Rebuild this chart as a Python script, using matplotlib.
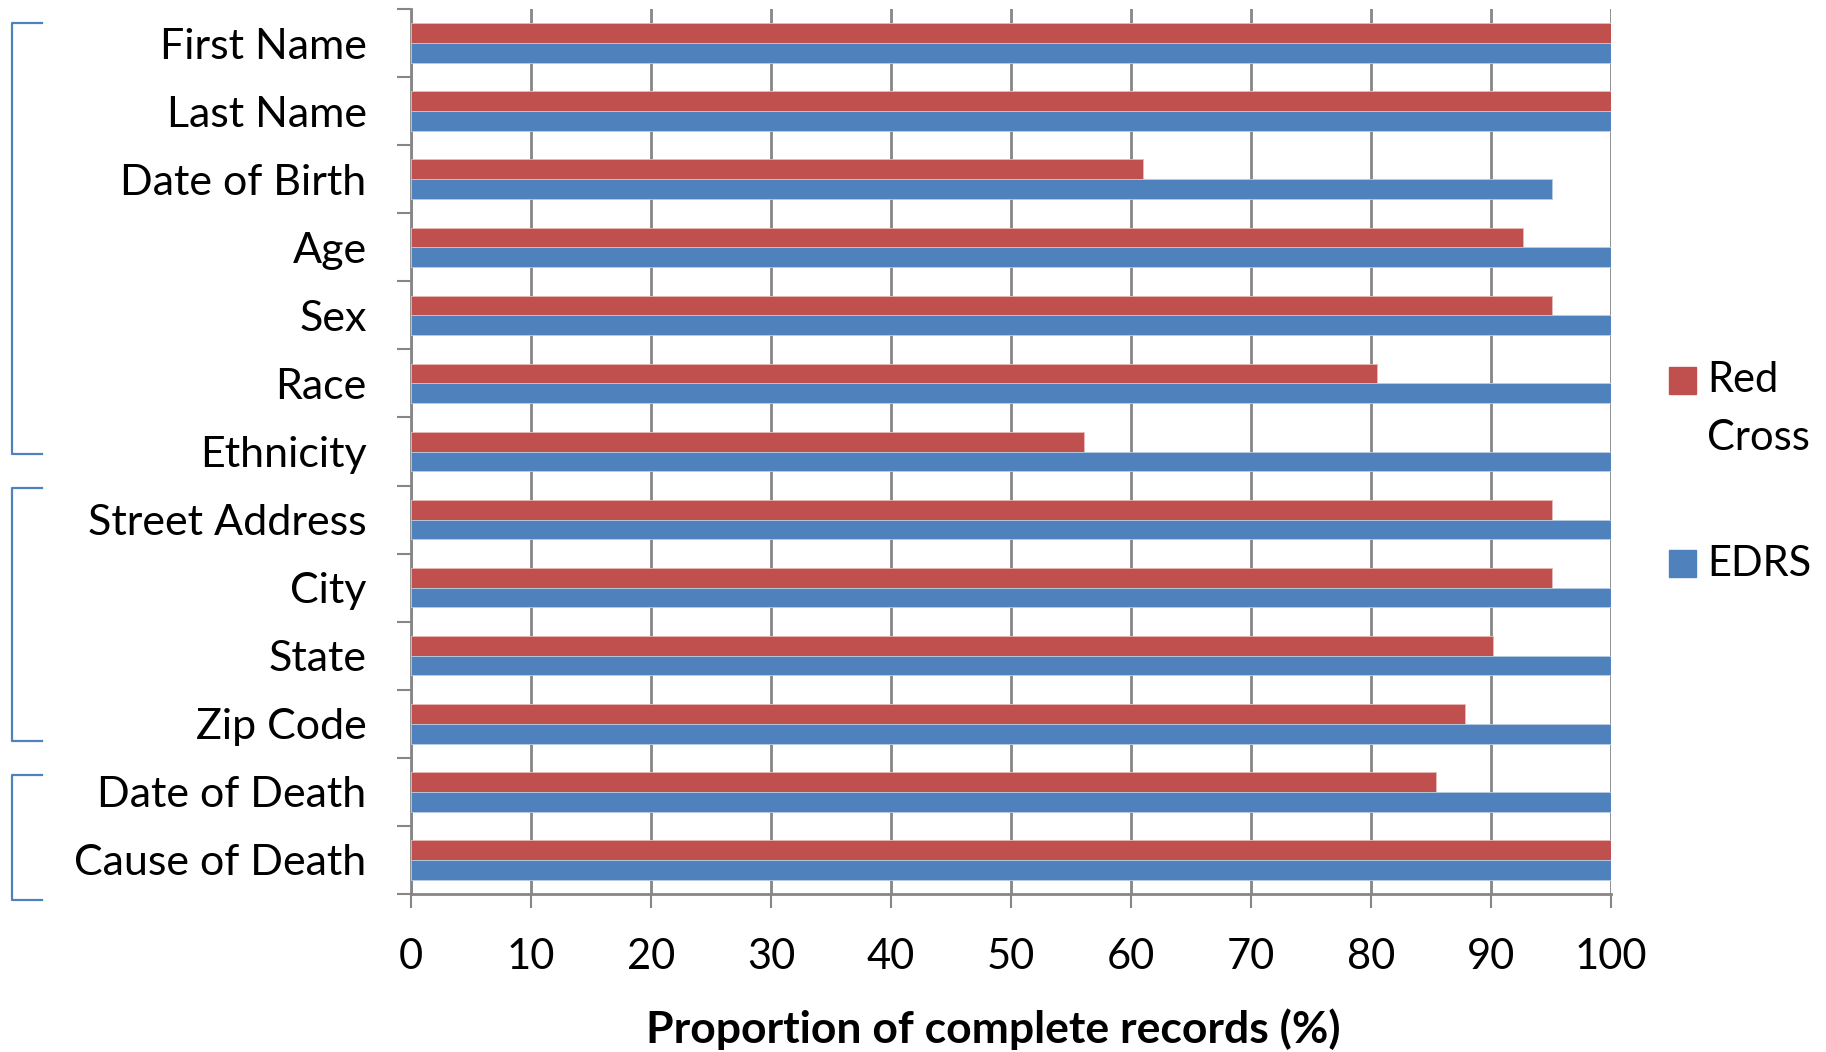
import matplotlib
matplotlib.use("Agg")
import matplotlib.pyplot as plt
import numpy as np
from matplotlib.patches import Rectangle
from matplotlib.lines import Line2D

plt.rcParams['font.family'] = ['Lato', 'DejaVu Sans']

fields = ["First Name", "Last Name", "Date of Birth", "Age", "Sex", "Race",
          "Ethnicity", "Street Address", "City", "State", "Zip Code",
          "Date of Death", "Cause of Death"]
red_cross = [100, 100, 61.0, 92.7, 95.1, 80.5, 56.1, 95.1, 95.1, 90.2, 87.8, 85.4, 100]
edrs = [100, 100, 95.1, 100, 100, 100, 100, 100, 100, 100, 100, 100, 100]
series_names = ["Red\nCross", "EDRS"]
xticks = list(range(0, 101, 10))
# vertical extent of each bracket on the left, in row units (row i centred at i)
bracket_spans = [(-0.29, 6.03), (6.53, 10.25), (10.75, 12.59)]

RED = "#C0504D"
BLUE = "#4F81BD"
GRID = "#868686"
FS = 31

W, H = 1826, 1052
fig = plt.figure(figsize=(W / 100, H / 100), dpi=100)
ax = fig.add_axes([411 / W, 1 - 894 / H, 1200 / W, 885 / H])

y = np.arange(len(fields))
bh = 0.29
ax.barh(y - bh / 2, red_cross, height=bh, color=RED, edgecolor="#E8B8B7", linewidth=0.6, zorder=3)
ax.barh(y + bh / 2, edrs, height=bh, color=BLUE, edgecolor="#B8CCE4", linewidth=0.6, zorder=3)

ax.set_xlim(0, 100)
ax.set_ylim(len(fields) - 0.5, -0.5)

ax.set_xticks(xticks)
ax.set_xticklabels([str(t) for t in xticks], fontsize=FS - 1)
ax.xaxis.grid(True, color=GRID, linewidth=2, zorder=0)
ax.tick_params(axis="x", length=10, width=1.5, color=GRID, pad=22, direction="out")

ax.set_yticks(y)
ax.set_yticklabels(fields, fontsize=FS)
ax.set_yticks(np.arange(-0.5, len(fields)), minor=True)
ax.tick_params(axis="y", which="major", length=0, pad=32)
ax.tick_params(axis="y", which="minor", length=10, width=1.5, color=GRID, direction="out")

for side in ["top", "right"]:
    ax.spines[side].set_visible(False)
for side in ["left", "bottom"]:
    ax.spines[side].set_color(GRID)
    ax.spines[side].set_linewidth(2)

fig.text(993 / W, 1 - 1029 / H, "Proportion of complete records (%)",
         fontsize=FS + 1, fontweight="bold", ha="center", va="center")

# brackets grouping the name/demographic, address and death fields
xs = np.array([42, 12, 12, 42]) / W
for top, bot in bracket_spans:
    pts_y = [top, top, bot, bot]
    disp = [ax.transData.transform((0, v))[1] / H for v in pts_y]
    fig.add_artist(Line2D(xs, disp, color=BLUE, linewidth=1.6))

# legend
legend_rows = [(381, [380, 438]), (564, [564])]
for (cy, text_y), name, col in zip(legend_rows, series_names, [RED, BLUE]):
    fig.add_artist(Rectangle((1669 / W, 1 - (cy + 13) / H), 27 / W, 27 / H,
                             transform=fig.transFigure, color=col))
    for line, ty in zip(name.split("\n"), text_y):
        fig.text(1707 / W, 1 - ty / H, line, fontsize=FS - 1, ha="left", va="center")

fig.savefig("out.png", dpi=100)
